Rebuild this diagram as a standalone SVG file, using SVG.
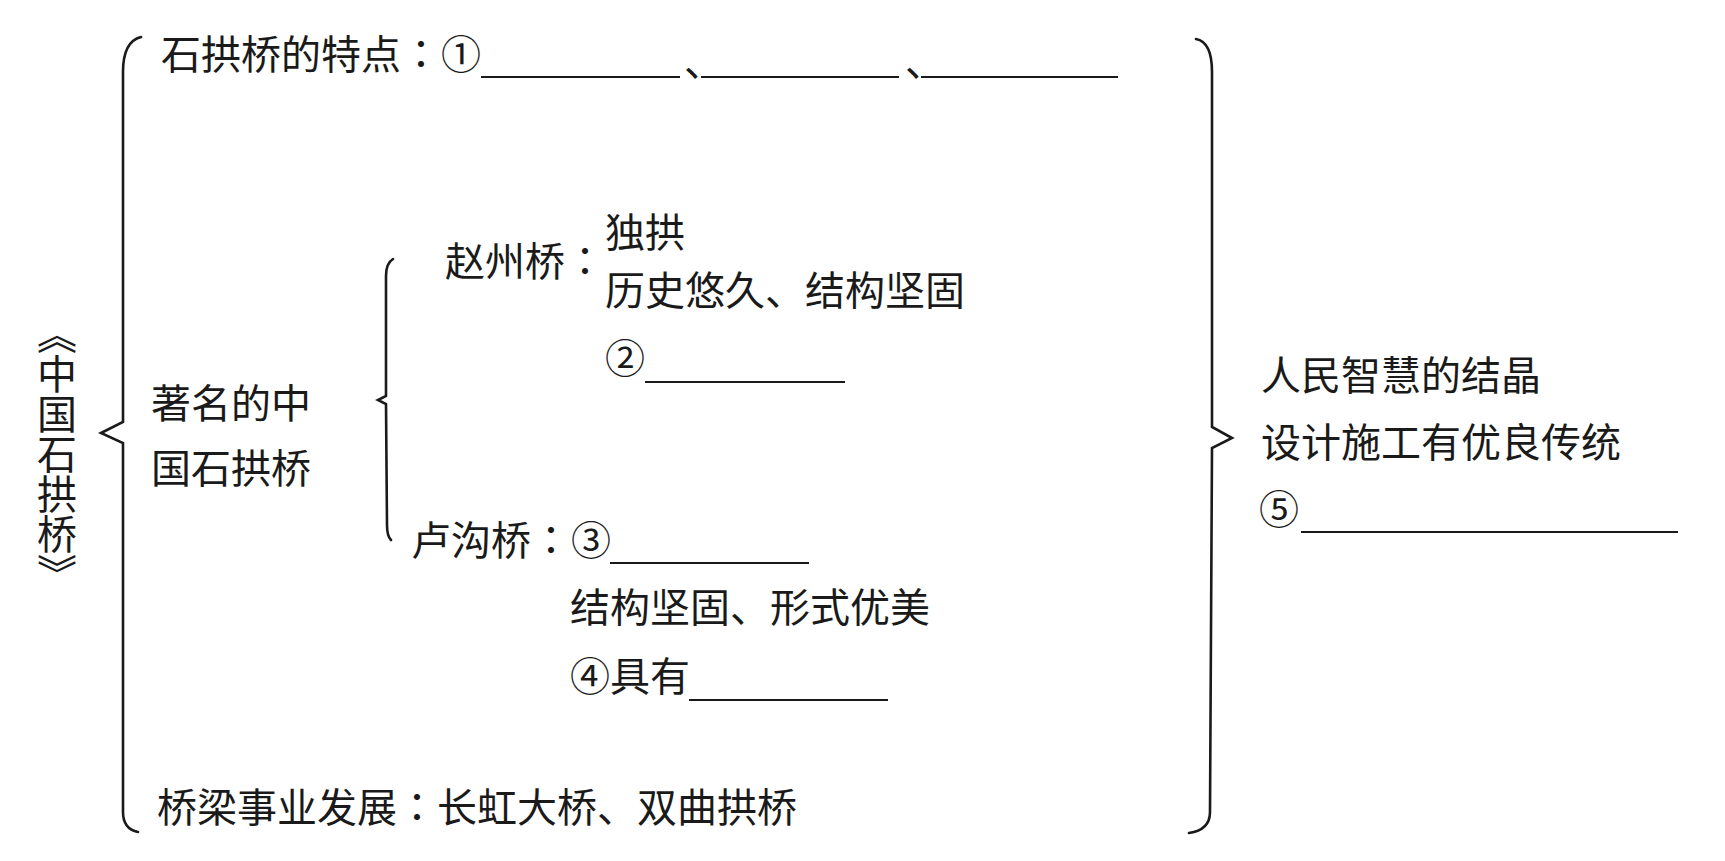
<svg xmlns="http://www.w3.org/2000/svg" width="1725" height="861" viewBox="0 0 1725 861">
<style>
  .t { font-family: "Noto Sans CJK SC", "Noto Sans CJK JP", sans-serif; font-size: 40px; fill: #1a1a1a; }
  .c { font-family: "Noto Sans CJK TC", "Noto Sans CJK SC", sans-serif; }
  .v { writing-mode: vertical-rl; }
  .brace { fill: none; stroke: #1a1a1a; stroke-width: 2.6; stroke-linejoin: miter; stroke-linecap: round; }
  .blank { stroke: #1a1a1a; stroke-width: 2.2; }
</style>
<rect width="1725" height="861" fill="#ffffff"/>

<g id="connectors">
  <path class="brace" d="M141,37 C129,40 123,52 123,72 L123,422 L101,433 L123,443 L123,812 C123,824 128,830 138,832"/>
  <path class="brace" d="M393,259 C388,262 386,268 386,276 L386,396 L378,400 L386,404 L387,525 C387,533 388,537 391,540"/>
  <path class="brace" d="M1196,39 C1207,41 1212,52 1212,72 L1212,427 L1232,438 L1212,448 L1210,812 C1210,824 1203,831 1189,833"/>
</g>

<g id="title">
  <text class="t v" x="57" y="314">《中国石拱桥》</text>
</g>

<g id="features">
  <text class="t" x="161" y="69">石拱桥的特点<tspan class="c">：</tspan>①</text>
  <line class="blank" x1="481" y1="77" x2="680" y2="77"/>
  <text class="t" x="684" y="76">、</text>
  <line class="blank" x1="701" y1="77" x2="899" y2="77"/>
  <text class="t" x="905" y="76">、</text>
  <line class="blank" x1="921" y1="77" x2="1118" y2="77"/>
</g>

<g id="famous">
  <text class="t" x="151" y="418">著名的中</text>
  <text class="t" x="151" y="483">国石拱桥</text>
</g>

<g id="zhaozhou">
  <text class="t" x="445" y="276">赵州桥<tspan class="c">：</tspan></text>
  <text class="t" x="605" y="247">独拱</text>
  <text class="t" x="605" y="305">历史悠久、结构坚固</text>
  <text class="t" x="605" y="373">②</text>
  <line class="blank" x1="645" y1="382" x2="845" y2="382"/>
</g>

<g id="lugou">
  <text class="t" x="411" y="555">卢沟桥<tspan class="c">：</tspan>③</text>
  <line class="blank" x1="610" y1="563" x2="809" y2="563"/>
  <text class="t" x="570" y="622">结构坚固、形式优美</text>
  <text class="t" x="570" y="691">④具有</text>
  <line class="blank" x1="689" y1="700" x2="888" y2="700"/>
</g>

<g id="development">
  <text class="t" x="157" y="822">桥梁事业发展<tspan class="c">：</tspan>长虹大桥、双曲拱桥</text>
</g>

<g id="significance">
  <text class="t" x="1261" y="390">人民智慧的结晶</text>
  <text class="t" x="1261" y="457">设计施工有优良传统</text>
  <text class="t" x="1259" y="524">⑤</text>
  <line class="blank" x1="1301" y1="532" x2="1678" y2="532"/>
</g>
</svg>
